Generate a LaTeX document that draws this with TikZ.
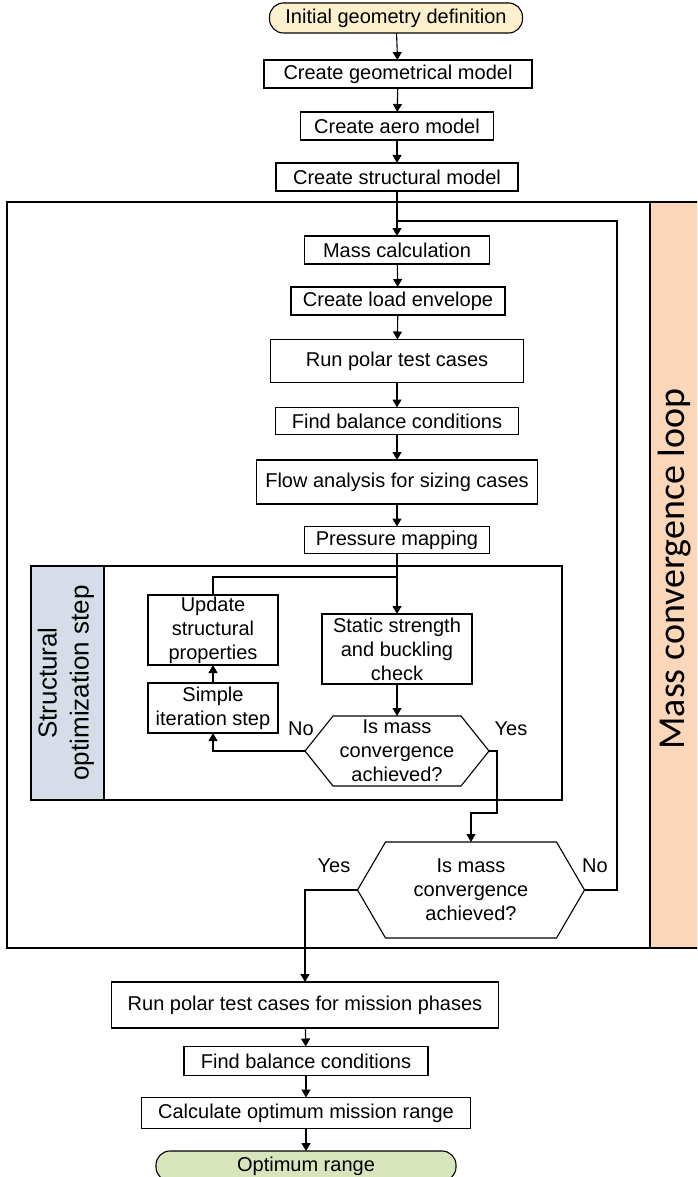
\documentclass[tikz,border=0pt]{standalone}
\usepackage{fontspec}
\setmainfont{Liberation Sans}
\newfontfamily\calibrifont{Carlito}
\usetikzlibrary{arrows.meta}
\definecolor{startfill}{RGB}{253,240,205}
\definecolor{endfill}{RGB}{216,228,188}
\definecolor{loopfill}{RGB}{251,214,184}
\definecolor{optfill}{RGB}{214,221,232}
\begin{document}
\begin{tikzpicture}[x=1pt, y=-1pt, >={Triangle[length=8pt,width=9pt]},
    font=\fontsize{20}{24}\selectfont,
    box/.style={draw, line width=1.1pt, align=center, inner sep=1pt, outer sep=0pt, minimum height=28pt},
    term/.style={box, rounded corners=14pt},
    dec/.style={align=center, inner sep=0pt, outer sep=0pt},
    lbl/.style={inner sep=0pt},
    hexline/.style={line width=1.1pt},
    flow/.style={->, line width=1.1pt},
    frame/.style={draw, line width=2.4pt}]
  \clip (0,0) rectangle (697,1177);
  % loop frames
  \draw[frame, fill=loopfill] (650,202) rectangle (710,948);
  \draw[frame] (7,202) rectangle (650,948);
  \draw[frame] (31,566) rectangle (562,800);
  \draw[frame, fill=optfill] (31,566) rectangle (104,800);
  \node[rotate=90, inner sep=0pt, font=\calibrifont\fontsize{38}{40}\selectfont] (loopname) at (675,569) {Mass convergence loop};
  \node[rotate=90, align=center, font=\fontsize{26}{32}\selectfont] (optname) at (66,683) {Structural\\optimization step};
  % model set-up
  \node[term, fill=startfill, minimum width=253pt, minimum height=30pt] (init) at (396,18) {Initial geometry definition};
  \node[box, minimum width=268pt] (geo) at (398,74) {Create geometrical model};
  \node[box, minimum width=193pt] (aero) at (397,126) {Create aero model};
  \node[box, minimum width=242pt] (struct) at (397,177) {Create structural model};
  % mass loop
  \node[box, minimum width=185pt] (mass) at (397,250) {Mass calculation};
  \node[box, minimum width=214pt] (load) at (398,301) {Create load envelope};
  \node[box, minimum width=253pt, minimum height=43pt] (polar) at (397,361) {Run polar test cases};
  \node[box, minimum width=243pt, minimum height=27pt] (balance) at (397,421) {Find balance conditions};
  \node[box, minimum width=281pt, minimum height=44pt] (flowan) at (397,482) {Flow analysis for sizing cases};
  \node[box, minimum width=185pt, minimum height=27pt] (press) at (397,540) {Pressure mapping};
  % structural optimization
  \node[box, minimum width=130pt, minimum height=70pt] (update) at (213,630) {Update\\structural\\properties};
  \node[box, minimum width=130pt, minimum height=50pt] (simple) at (213,708) {Simple\\iteration step};
  \node[box, minimum width=150pt, minimum height=70pt] (static) at (397,649) {Static strength\\and buckling\\check};
  \node[dec, minimum width=184pt, minimum height=70pt] (hexA) at (397,751) {Is mass\\convergence\\achieved?};
  \draw[hexline] (hexA.west) -- ([xshift=28]hexA.north west) -- ([xshift=-28]hexA.north east) -- (hexA.east)
    -- ([xshift=-28]hexA.south east) -- ([xshift=28]hexA.south west) -- cycle;
  \node[dec, minimum width=227pt, minimum height=96pt] (hexB) at (471,890) {Is mass\\convergence\\achieved?};
  \draw[hexline] (hexB.west) -- ([xshift=28]hexB.north west) -- ([xshift=-28]hexB.north east) -- (hexB.east)
    -- ([xshift=-28]hexB.south east) -- ([xshift=28]hexB.south west) -- cycle;
  % mission evaluation
  \node[box, minimum width=387pt, minimum height=46pt] (polar2) at (305,1005) {Run polar test cases for mission phases};
  \node[box, minimum width=244pt, minimum height=29pt] (balance2) at (306,1061) {Find balance conditions};
  \node[box, minimum width=329pt, minimum height=31pt] (calc) at (306,1113) {Calculate optimum mission range};
  \node[term, fill=endfill, minimum width=300pt, minimum height=30pt] (optimum) at (306,1166) {Optimum range};
  % labels
  \node[lbl] (noA) at (301,729) {No};
  \node[lbl] (yesA) at (511,729) {Yes};
  \node[lbl] (yesB) at (334,866) {Yes};
  \node[lbl] (noB) at (595,866) {No};
  % connectors
  \coordinate (loopR) at (617,221);
  \coordinate (branch) at (397,577);
  \coordinate (yesdrop) at (497,813);
  \draw[flow] (init) -- (geo);
  \draw[flow] (geo) -- (aero);
  \draw[flow] (aero) -- (struct);
  \draw[flow] (struct) -- (mass);
  \draw[flow] (mass) -- (load);
  \draw[flow] (load) -- (polar);
  \draw[flow] (polar) -- (balance);
  \draw[flow] (balance) -- (flowan);
  \draw[flow] (flowan) -- (press);
  \draw[flow] (press) -- (static);
  \draw[hexline] (press.south |- branch) -| (update.north);
  \draw[flow] (static) -- (hexA);
  \draw[flow] (hexA.west) -| (simple.south);
  \draw[flow] (simple) -- (update);
  \draw[flow] (hexA.east) -| (yesdrop) -| (hexB.north);
  \draw[hexline] (hexB.east) -| (loopR) -- (mass.north |- loopR);
  \draw[flow] (hexB.west) -| (polar2.north);
  \draw[flow] (polar2) -- (balance2);
  \draw[flow] (balance2) -- (calc);
  \draw[flow] (calc) -- (optimum);
\end{tikzpicture}
\end{document}
